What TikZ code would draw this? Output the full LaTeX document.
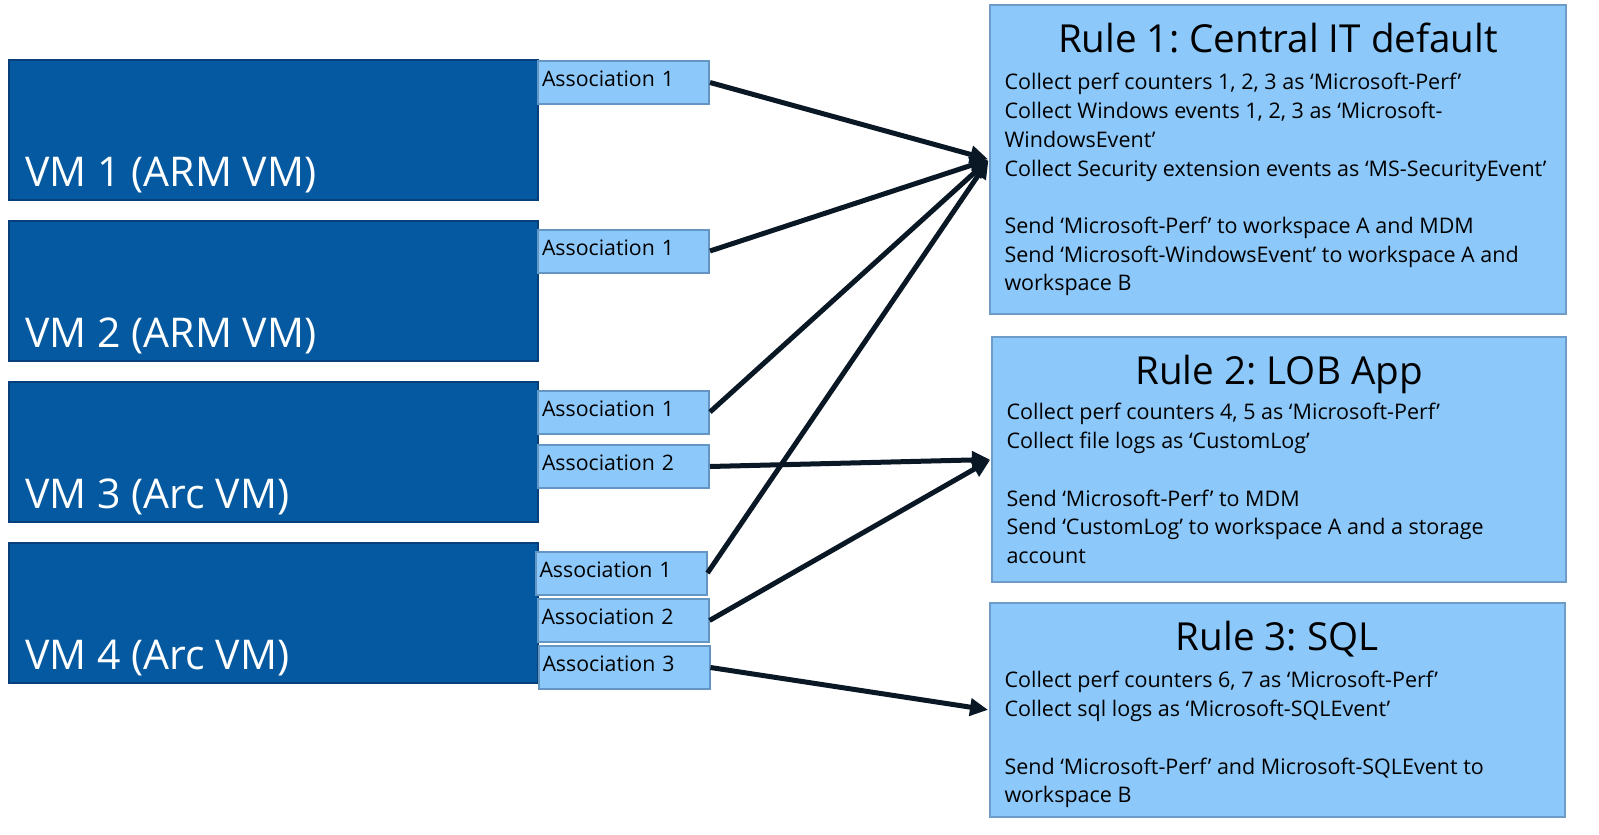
\documentclass[tikz,border=0pt]{standalone}
\usepackage{fontspec}
\setmainfont{Open Sans}
\usetikzlibrary{arrows.meta}
\frenchspacing

\definecolor{vmfill}{HTML}{0459A1}
\definecolor{vmdraw}{HTML}{073F7A}
\definecolor{lightfill}{HTML}{8CC8FA}
\definecolor{assocdraw}{HTML}{6496C3}
\definecolor{ruledraw}{HTML}{6D9CC9}
\definecolor{arrowcol}{HTML}{0A1826}

\begin{document}
\begin{tikzpicture}[x=1pt,y=-1pt,->,>={Triangle[length=18pt,width=17pt]},shorten >=1pt,
	line width=5pt,draw=arrowcol]
	\tikzstyle{vm box}=[draw=vmdraw,fill=vmfill,line width=2pt,minimum width=529pt,minimum height=140pt,inner sep=0pt]
	\tikzstyle{vm label}=[text=white,anchor=base west,inner sep=0pt,font=\fontsize{41}{48}\selectfont]
	\tikzstyle{assoc}=[draw=assocdraw,fill=lightfill,line width=2pt,minimum width=171pt,minimum height=43pt,
		inner xsep=4pt,inner ysep=0pt,text width=163pt,align=left,text height=15pt,text depth=7pt,
		font=\fontsize{21.3}{24}\selectfont]
	\tikzstyle{rule box}=[draw=ruledraw,fill=lightfill,line width=2pt,inner sep=0pt]
	\tikzstyle{rule title}=[anchor=base,inner sep=0pt,font=\fontsize{38.6}{46}\selectfont]
	\tikzstyle{rule body}=[anchor=north west,inner sep=0pt,align=left,font=\fontsize{21.5}{28.7}\selectfont]

	\useasboundingbox (0,0) rectangle (1599,835);

	% virtual machines
	\node[vm box] (VM1) at (273.5,130) {};
	\node[vm box] (VM2) at (273.5,291) {};
	\node[vm box] (VM3) at (273.5,452) {};
	\node[vm box] (VM4) at (273.5,613) {};
	\node[vm label] (VM1 label) at (23,186) {VM 1 (ARM VM)};
	\node[vm label] (VM2 label) at (23,347) {VM 2 (ARM VM)};
	\node[vm label] (VM3 label) at (23,508) {VM 3 (Arc VM)};
	\node[vm label] (VM4 label) at (23,669) {VM 4 (Arc VM)};

	% associations
	\node[assoc] (VM1 A1) at (623.5,82.5) {Association 1};
	\node[assoc] (VM2 A1) at (623.5,251) {Association 1};
	\node[assoc] (VM3 A1) at (623.5,412) {Association 1};
	\node[assoc] (VM3 A2) at (623.5,466.5) {Association 2};
	\node[assoc] (VM4 A1) at (621,573) {Association 1};
	\node[assoc] (VM4 A2) at (623,620.5) {Association 2};
	\node[assoc] (VM4 A3) at (624,667.5) {Association 3};

	% data collection rules
	\node[rule box,minimum width=576pt,minimum height=309pt] (R1) at (1278,159.5) {};
	\node[rule box,minimum width=574pt,minimum height=245pt] (R2) at (1279,459.5) {};
	\node[rule box,minimum width=575pt,minimum height=214pt] (R3) at (1277.5,710) {};

	\node[rule title] (R1 title) at (1278,52) {Rule 1: Central IT default};
	\node[rule body] (R1 body) at (1002,71) {Collect perf counters 1, 2, 3 as ‘Microsoft-Perf’\\
		Collect Windows events 1, 2, 3 as ‘Microsoft-\\
		WindowsEvent’\\
		Collect Security extension events as ‘MS-SecurityEvent’\\[28.7pt]
		Send ‘Microsoft-Perf’ to workspace A and MDM\\
		Send ‘Microsoft-WindowsEvent’ to workspace A and\\
		workspace B};

	\node[rule title] (R2 title) at (1279,384) {Rule 2: LOB App};
	\node[rule body] (R2 body) at (1004,401) {Collect perf counters 4, 5 as ‘Microsoft-Perf’\\
		Collect file logs as ‘CustomLog’\\[28.7pt]
		Send ‘Microsoft-Perf’ to MDM\\
		Send ‘CustomLog’ to workspace A and a storage\\
		account};

	\node[rule title] (R3 title) at (1277,650) {Rule 3: SQL};
	\node[rule body] (R3 body) at (1002,669) {Collect perf counters 6, 7 as ‘Microsoft-Perf’\\
		Collect sql logs as ‘Microsoft-SQLEvent’\\[28.7pt]
		Send ‘Microsoft-Perf’ and Microsoft-SQLEvent to\\
		workspace B};

	% associations to rules
	\draw (VM1 A1.east) -- (R1.west);
	\draw (VM2 A1.east) -- (R1.west);
	\draw (VM3 A1.east) -- (R1.west);
	\draw (VM4 A1.east) -- (R1.west);
	\draw (VM3 A2.east) -- (R2.west);
	\draw (VM4 A2.east) -- (R2.west);
	\draw (VM4 A3.east) -- (R3.west);
\end{tikzpicture}
\end{document}
